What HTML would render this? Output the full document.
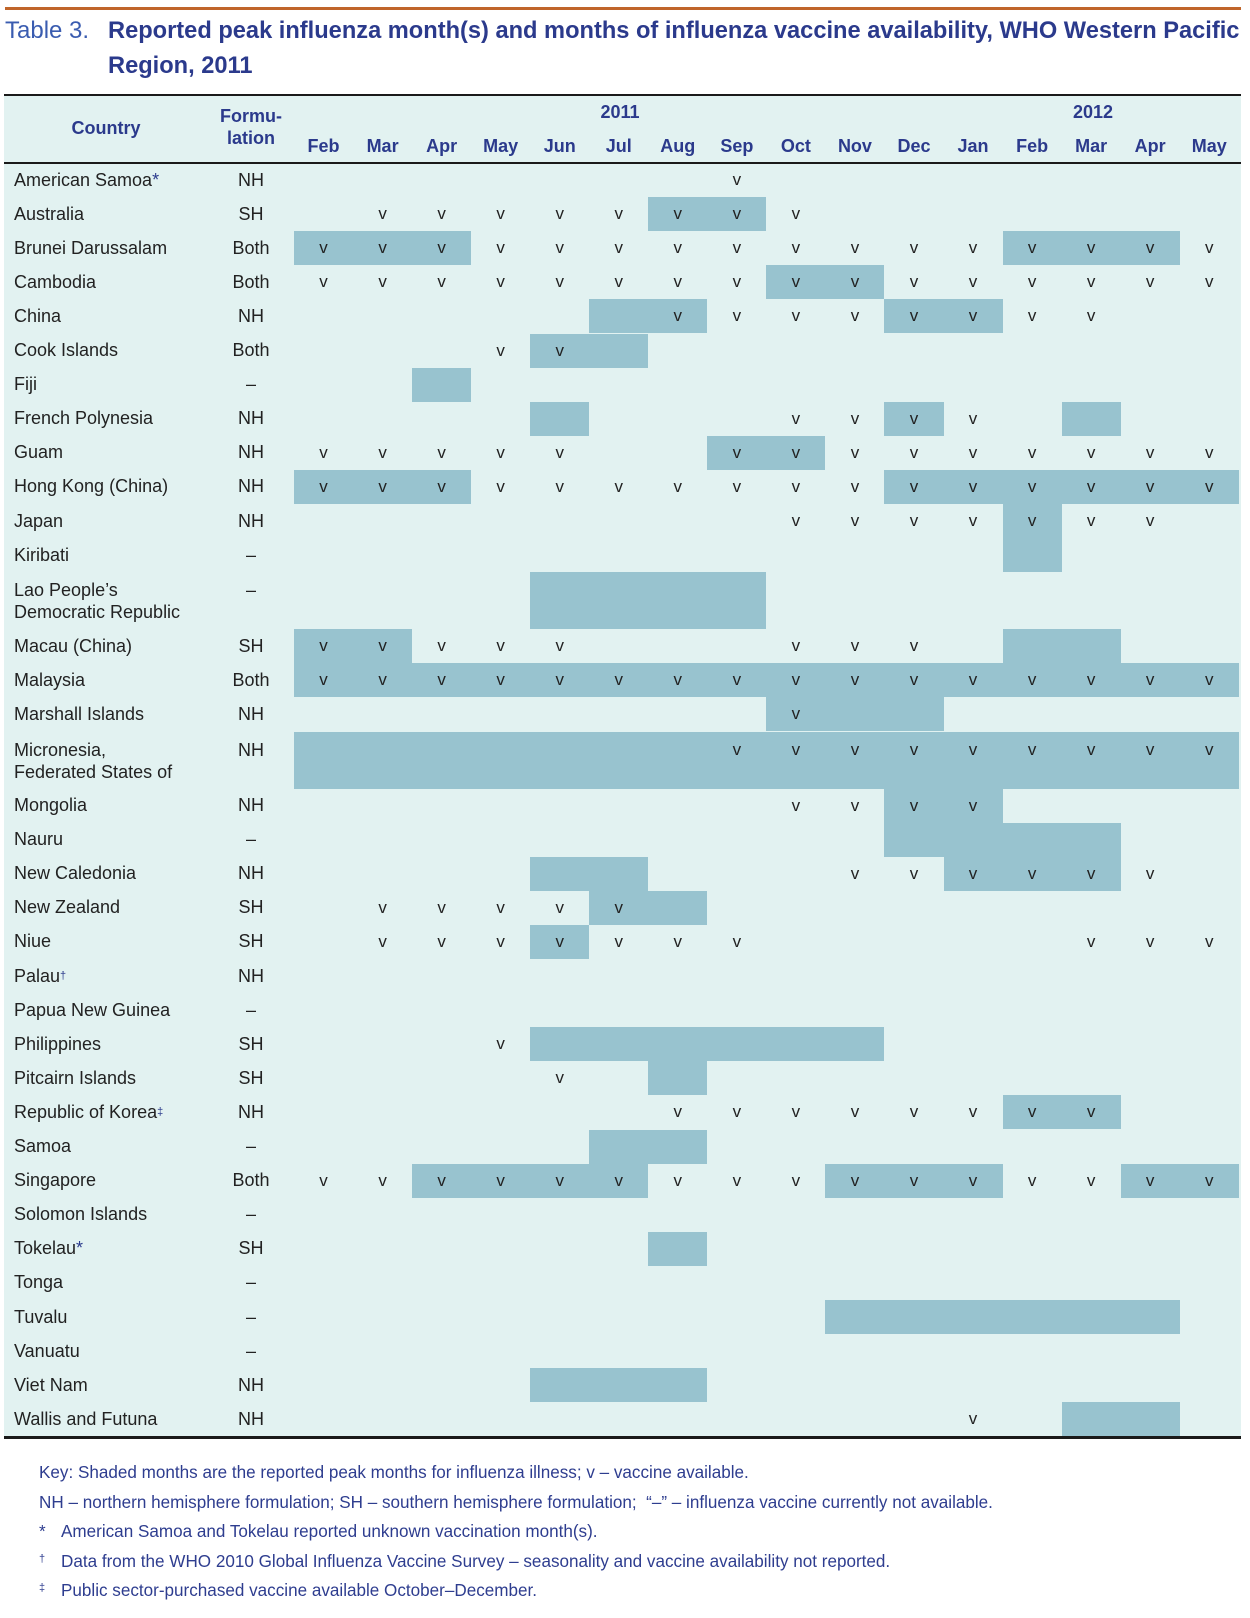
<!DOCTYPE html>
<html><head><meta charset="utf-8"><style>
body{margin:0;width:1250px;height:1618px;background:#fff;position:relative;overflow:hidden;font-family:"Liberation Sans",sans-serif}
.orange{position:absolute;left:5px;top:7px;width:1236px;height:3px;background:#c0652a}
.t{position:absolute;font-size:24px;color:#2b3a8c;white-space:nowrap}
.t span{display:inline-block;transform:scaleX(0.985);transform-origin:left;font-weight:bold}
.bg{position:absolute;left:4px;top:95px;width:1237px;height:1342px;background:#e2f2f1}
.line{position:absolute;left:4px;width:1237px;background:#1a1a1a}
.h{position:absolute;color:#2b3a8c;font-weight:bold;font-size:18px;text-align:center}
.r{position:absolute;left:4px;width:1237px;height:34.1px;display:grid;grid-template-columns:204px 86px repeat(16,59.05px);font-size:18px;color:#222}
.r>*{display:flex;align-items:center;justify-content:center}
.r>b{font-weight:normal;justify-content:flex-start;padding-left:10px;white-space:nowrap}
.r>i{font-style:normal;font-size:17px}
.r>i.s{background:#98c3cf}
.r.d{height:57px;line-height:22px}
.r.d>*{align-items:flex-start;padding-top:7px}
.r.d>b{flex-direction:column}
.r.d>i.s{padding-top:7px}
sup{color:#2b3a8c;font-size:11px;vertical-align:6px}
.star{color:#2b3a8c}
.f{position:absolute;left:39px;font-size:17.1px;color:#2e3d8f;white-space:nowrap}
.f .m{display:inline-block;width:22px}
</style></head><body>
<div class="orange"></div>
<div class="t" style="left:5px;top:17px"><span style="font-weight:normal;color:#3a5cb0;transform:scaleX(1)">Table 3.</span></div>
<div class="t" style="left:108px;top:17px"><span>Reported peak influenza month(s) and months of influenza vaccine availability, WHO Western Pacific</span></div>
<div class="t" style="left:108px;top:52px"><span>Region, 2011</span></div>
<div class="bg"></div>
<div class="line" style="top:94px;height:2px"></div>
<div class="line" style="top:162px;height:2px"></div>
<div class="line" style="top:1436px;height:3px"></div>
<div class="h" style="left:4px;width:204px;top:118px">Country</div>
<div class="h" style="left:208px;width:86px;top:105px;line-height:22px">Formu-<br>lation</div>
<div class="h" style="left:590px;width:60px;top:102px">2011</div>
<div class="h" style="left:1063px;width:60px;top:102px">2012</div>
<div class="h" style="left:294px;top:136px;width:945px;display:grid;grid-template-columns:repeat(16,59.05px)"><span>Feb</span><span>Mar</span><span>Apr</span><span>May</span><span>Jun</span><span>Jul</span><span>Aug</span><span>Sep</span><span>Oct</span><span>Nov</span><span>Dec</span><span>Jan</span><span>Feb</span><span>Mar</span><span>Apr</span><span>May</span></div>

<div class="r" style="top:163px"><b>American Samoa<span class="star">*</span></b><span>NH</span><i></i><i></i><i></i><i></i><i></i><i></i><i></i><i>v</i><i></i><i></i><i></i><i></i><i></i><i></i><i></i><i></i></div>
<div class="r" style="top:197.1px"><b>Australia</b><span>SH</span><i></i><i>v</i><i>v</i><i>v</i><i>v</i><i>v</i><i class="s">v</i><i class="s">v</i><i>v</i><i></i><i></i><i></i><i></i><i></i><i></i><i></i></div>
<div class="r" style="top:231.2px"><b>Brunei Darussalam</b><span>Both</span><i class="s">v</i><i class="s">v</i><i class="s">v</i><i>v</i><i>v</i><i>v</i><i>v</i><i>v</i><i>v</i><i>v</i><i>v</i><i>v</i><i class="s">v</i><i class="s">v</i><i class="s">v</i><i>v</i></div>
<div class="r" style="top:265.3px"><b>Cambodia</b><span>Both</span><i>v</i><i>v</i><i>v</i><i>v</i><i>v</i><i>v</i><i>v</i><i>v</i><i class="s">v</i><i class="s">v</i><i>v</i><i>v</i><i>v</i><i>v</i><i>v</i><i>v</i></div>
<div class="r" style="top:299.4px"><b>China</b><span>NH</span><i></i><i></i><i></i><i></i><i></i><i class="s"></i><i class="s">v</i><i>v</i><i>v</i><i>v</i><i class="s">v</i><i class="s">v</i><i>v</i><i>v</i><i></i><i></i></div>
<div class="r" style="top:333.5px"><b>Cook Islands</b><span>Both</span><i></i><i></i><i></i><i>v</i><i class="s">v</i><i class="s"></i><i></i><i></i><i></i><i></i><i></i><i></i><i></i><i></i><i></i><i></i></div>
<div class="r" style="top:367.6px"><b>Fiji</b><span>–</span><i></i><i></i><i class="s"></i><i></i><i></i><i></i><i></i><i></i><i></i><i></i><i></i><i></i><i></i><i></i><i></i><i></i></div>
<div class="r" style="top:401.7px"><b>French Polynesia</b><span>NH</span><i></i><i></i><i></i><i></i><i class="s"></i><i></i><i></i><i></i><i>v</i><i>v</i><i class="s">v</i><i>v</i><i></i><i class="s"></i><i></i><i></i></div>
<div class="r" style="top:435.8px"><b>Guam</b><span>NH</span><i>v</i><i>v</i><i>v</i><i>v</i><i>v</i><i></i><i></i><i class="s">v</i><i class="s">v</i><i>v</i><i>v</i><i>v</i><i>v</i><i>v</i><i>v</i><i>v</i></div>
<div class="r" style="top:469.9px"><b>Hong Kong (China)</b><span>NH</span><i class="s">v</i><i class="s">v</i><i class="s">v</i><i>v</i><i>v</i><i>v</i><i>v</i><i>v</i><i>v</i><i>v</i><i class="s">v</i><i class="s">v</i><i class="s">v</i><i class="s">v</i><i class="s">v</i><i class="s">v</i></div>
<div class="r" style="top:504px"><b>Japan</b><span>NH</span><i></i><i></i><i></i><i></i><i></i><i></i><i></i><i></i><i>v</i><i>v</i><i>v</i><i>v</i><i class="s">v</i><i>v</i><i>v</i><i></i></div>
<div class="r" style="top:538.1px"><b>Kiribati</b><span>–</span><i></i><i></i><i></i><i></i><i></i><i></i><i></i><i></i><i></i><i></i><i></i><i></i><i class="s"></i><i></i><i></i><i></i></div>
<div class="r d" style="top:572.2px"><b><span>Lao People’s</span><span>Democratic Republic</span></b><span>–</span><i></i><i></i><i></i><i></i><i class="s"></i><i class="s"></i><i class="s"></i><i class="s"></i><i></i><i></i><i></i><i></i><i></i><i></i><i></i><i></i></div>
<div class="r" style="top:629.2px"><b>Macau (China)</b><span>SH</span><i class="s">v</i><i class="s">v</i><i>v</i><i>v</i><i>v</i><i></i><i></i><i></i><i>v</i><i>v</i><i>v</i><i></i><i class="s"></i><i class="s"></i><i></i><i></i></div>
<div class="r" style="top:663.3px"><b>Malaysia</b><span>Both</span><i class="s">v</i><i class="s">v</i><i class="s">v</i><i class="s">v</i><i class="s">v</i><i class="s">v</i><i class="s">v</i><i class="s">v</i><i class="s">v</i><i class="s">v</i><i class="s">v</i><i class="s">v</i><i class="s">v</i><i class="s">v</i><i class="s">v</i><i class="s">v</i></div>
<div class="r" style="top:697.4px"><b>Marshall Islands</b><span>NH</span><i></i><i></i><i></i><i></i><i></i><i></i><i></i><i></i><i class="s">v</i><i class="s"></i><i class="s"></i><i></i><i></i><i></i><i></i><i></i></div>
<div class="r d" style="top:731.5px"><b><span>Micronesia,</span><span>Federated States of</span></b><span>NH</span><i class="s"></i><i class="s"></i><i class="s"></i><i class="s"></i><i class="s"></i><i class="s"></i><i class="s"></i><i class="s">v</i><i class="s">v</i><i class="s">v</i><i class="s">v</i><i class="s">v</i><i class="s">v</i><i class="s">v</i><i class="s">v</i><i class="s">v</i></div>
<div class="r" style="top:788.5px"><b>Mongolia</b><span>NH</span><i></i><i></i><i></i><i></i><i></i><i></i><i></i><i></i><i>v</i><i>v</i><i class="s">v</i><i class="s">v</i><i></i><i></i><i></i><i></i></div>
<div class="r" style="top:822.6px"><b>Nauru</b><span>–</span><i></i><i></i><i></i><i></i><i></i><i></i><i></i><i></i><i></i><i></i><i class="s"></i><i class="s"></i><i class="s"></i><i class="s"></i><i></i><i></i></div>
<div class="r" style="top:856.7px"><b>New Caledonia</b><span>NH</span><i></i><i></i><i></i><i></i><i class="s"></i><i class="s"></i><i></i><i></i><i></i><i>v</i><i>v</i><i class="s">v</i><i class="s">v</i><i class="s">v</i><i>v</i><i></i></div>
<div class="r" style="top:890.8px"><b>New Zealand</b><span>SH</span><i></i><i>v</i><i>v</i><i>v</i><i>v</i><i class="s">v</i><i class="s"></i><i></i><i></i><i></i><i></i><i></i><i></i><i></i><i></i><i></i></div>
<div class="r" style="top:924.9px"><b>Niue</b><span>SH</span><i></i><i>v</i><i>v</i><i>v</i><i class="s">v</i><i>v</i><i>v</i><i>v</i><i></i><i></i><i></i><i></i><i></i><i>v</i><i>v</i><i>v</i></div>
<div class="r" style="top:959px"><b>Palau<sup>†</sup></b><span>NH</span></div>
<div class="r" style="top:993.1px"><b>Papua New Guinea</b><span>–</span></div>
<div class="r" style="top:1027.2px"><b>Philippines</b><span>SH</span><i></i><i></i><i></i><i>v</i><i class="s"></i><i class="s"></i><i class="s"></i><i class="s"></i><i class="s"></i><i class="s"></i><i></i><i></i><i></i><i></i><i></i><i></i></div>
<div class="r" style="top:1061.3px"><b>Pitcairn Islands</b><span>SH</span><i></i><i></i><i></i><i></i><i>v</i><i></i><i class="s"></i><i></i><i></i><i></i><i></i><i></i><i></i><i></i><i></i><i></i></div>
<div class="r" style="top:1095.4px"><b>Republic of Korea<sup>‡</sup></b><span>NH</span><i></i><i></i><i></i><i></i><i></i><i></i><i>v</i><i>v</i><i>v</i><i>v</i><i>v</i><i>v</i><i class="s">v</i><i class="s">v</i><i></i><i></i></div>
<div class="r" style="top:1129.5px"><b>Samoa</b><span>–</span><i></i><i></i><i></i><i></i><i></i><i class="s"></i><i class="s"></i><i></i><i></i><i></i><i></i><i></i><i></i><i></i><i></i><i></i></div>
<div class="r" style="top:1163.6px"><b>Singapore</b><span>Both</span><i>v</i><i>v</i><i class="s">v</i><i class="s">v</i><i class="s">v</i><i class="s">v</i><i>v</i><i>v</i><i>v</i><i class="s">v</i><i class="s">v</i><i class="s">v</i><i>v</i><i>v</i><i class="s">v</i><i class="s">v</i></div>
<div class="r" style="top:1197.7px"><b>Solomon Islands</b><span>–</span></div>
<div class="r" style="top:1231.8px"><b>Tokelau<span class="star">*</span></b><span>SH</span><i></i><i></i><i></i><i></i><i></i><i></i><i class="s"></i><i></i><i></i><i></i><i></i><i></i><i></i><i></i><i></i><i></i></div>
<div class="r" style="top:1265.9px"><b>Tonga</b><span>–</span></div>
<div class="r" style="top:1300px"><b>Tuvalu</b><span>–</span><i></i><i></i><i></i><i></i><i></i><i></i><i></i><i></i><i></i><i class="s"></i><i class="s"></i><i class="s"></i><i class="s"></i><i class="s"></i><i class="s"></i><i></i></div>
<div class="r" style="top:1334.1px"><b>Vanuatu</b><span>–</span></div>
<div class="r" style="top:1368.2px"><b>Viet Nam</b><span>NH</span><i></i><i></i><i></i><i></i><i class="s"></i><i class="s"></i><i class="s"></i><i></i><i></i><i></i><i></i><i></i><i></i><i></i><i></i><i></i></div>
<div class="r" style="top:1402.3px"><b>Wallis and Futuna</b><span>NH</span><i></i><i></i><i></i><i></i><i></i><i></i><i></i><i></i><i></i><i></i><i></i><i>v</i><i></i><i class="s"></i><i class="s"></i><i></i></div>

<div class="f" style="top:1463px">Key: Shaded months are the reported peak months for influenza illness; v – vaccine available.</div>
<div class="f" style="top:1493px">NH – northern hemisphere formulation; SH – southern hemisphere formulation;&nbsp; “–” – influenza vaccine currently not available.</div>
<div class="f" style="top:1522px"><span class="m">*</span>American Samoa and Tokelau reported unknown vaccination month(s).</div>
<div class="f" style="top:1552px"><span class="m" style="font-size:11px;vertical-align:5px">†</span>Data from the WHO 2010 Global Influenza Vaccine Survey – seasonality and vaccine availability not reported.</div>
<div class="f" style="top:1581px"><span class="m" style="font-size:11px;vertical-align:5px">‡</span>Public sector-purchased vaccine available October–December.</div>
</body></html>
